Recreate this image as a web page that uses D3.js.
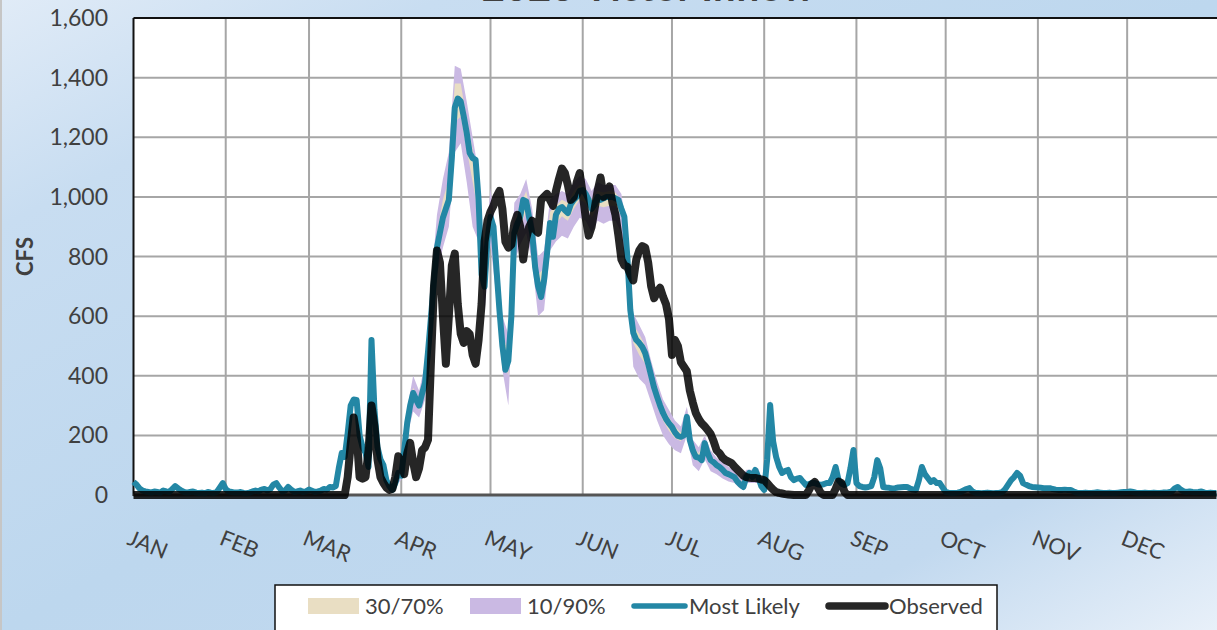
<!DOCTYPE html>
<html>
<head>
<meta charset="utf-8">
<script src="https://cdn.jsdelivr.net/npm/d3@7"></script>
<style>
body { margin: 0; }
svg text { font-family: Lato, "Open Sans", sans-serif; }
</style>
</head>
<body>
<svg width="1217" height="630"></svg>
<script>
// daily flows, Jan 1 .. Dec 31 2023
const year = 2023;
const monthLabels = ["JAN","FEB","MAR","APR","MAY","JUN","JUL","AUG","SEP","OCT","NOV","DEC"];
const yTicks = [0, 200, 400, 600, 800, 1000, 1200, 1400, 1600];

const mostLikely = [
  44,35,22,15,12,10,8,12,10,8, 15,12,10,20,30,22,15,10,8,10,
  12,8,7,8,6,10,8,7,10,25, 40,20,12,10,8,8,10,7,6,8,
  12,15,12,18,20,15,20,35,40,25, 12,15,27,18,10,12,15,10,12,18,
  14,10,12,15,20,18,27,25,30,90, 141,128,208,300,320,319,200,160,141,94,
  520,285,161,120,100,50,30,17,40,74, 65,150,242,300,342,320,300,340,376,480,
  597,720,830,880,930,960,990,1130,1300,1330, 1320,1270,1215,1147,1130,1124,990,740,698,860,
  933,900,760,621,500,420,450,597,879,910, 933,990,985,930,879,765,700,664,720,810,
  912,866,940,960,966,955,946,975,990,1000, 1020,1023,1010,990,960,975,1000,990,995,1000,
  1000,1000,995,990,960,933,799,620,544,520, 510,497,476,440,400,360,329,300,275,255,
  240,228,210,198,195,200,262,184,150,128, 125,117,174,140,117,110,100,94,85,74,
  70,65,60,45,35,27,60,74,60,84, 60,30,17,120,302,180,128,95,74,80,
  84,60,50,55,57,45,34,36,40,40, 36,34,36,40,40,60,94,50,38,34,
  40,90,151,40,30,27,25,27,30,60, 117,90,27,25,24,22,23,25,26,27,
  27,22,18,17,50,94,70,57,44,50, 40,40,25,10,8,7,7,8,10,15,
  20,23,12,7,7,6,7,8,7,6, 7,7,10,20,35,50,60,74,65,40,
  35,30,27,26,25,24,23,23,23,20, 18,17,17,18,17,17,12,8,7,7,
  8,7,7,8,9,8,7,7,8,7, 7,8,9,10,10,12,10,8,7,7,
  8,7,7,8,7,7,8,8,9,12, 22,27,18,12,10,12,10,9,10,12,
  8,7,8,7,7
];

const observed = [
  0,0,0,0,0,0,0,0,0,0, 0,0,0,0,0,0,0,0,0,0,
  0,0,0,0,0,0,0,0,0,0, 0,0,0,0,0,0,0,0,0,0,
  0,0,0,0,0,0,0,0,0,0, 0,0,0,0,0,0,0,0,0,0,
  0,0,0,0,0,0,0,0,0,0, 0,0,60,170,260,200,60,55,60,150,
  300,230,120,60,40,25,17,20,60,130, 110,70,140,175,110,60,90,150,160,185,
  450,700,820,780,600,440,600,770,810,640, 540,510,550,540,470,440,520,640,850,920,
  950,970,1000,1020,960,850,830,840,910,940, 900,790,860,900,920,890,880,990,1000,1010,
  990,970,1020,1060,1095,1080,1040,990,1000,1050, 1080,1010,930,870,900,960,1020,1065,1000,1010,
  1035,980,940,870,790,770,765,740,720,790, 820,835,830,780,700,660,680,695,665,640,
  590,470,520,500,445,430,415,350,310,275, 255,240,230,218,205,180,150,140,125,117,
  112,107,95,85,75,65,60,58,57,57, 55,52,50,40,28,18,10,7,5,3,
  2,1,0,0,0,0,0,15,35,44, 25,7,0,0,0,0,20,45,40,10,
  0,0,0,0,0,0,0,0,0,0, 0,0,0,0,0,0,0,0,0,0,
  0,0,0,0,0,0,0,0,0,0, 0,0,0,0,0,0,0,0,0,0,
  0,0,0,0,0,0,0,0,0,0, 0,0,0,0,0,0,0,0,0,0,
  0,0,0,0,0,0,0,0,0,0, 0,0,0,0,0,0,0,0,0,0,
  0,0,0,0,0,0,0,0,0,0, 0,0,0,0,0,0,0,0,0,0,
  0,0,0,0,0,0,0,0,0,0, 0,0,0,0,0,0,0,0,0,0,
  0,0,0,0,0
];

// forecast bands, only visible through the runoff season (day of year)
const bandDays = [88,90,92,94,96,98,100,102,104,106,108,110,112,114,116,118,120,122,124,126,
  128,130,132,134,136,138,140,142,144,146,148,150,152,154,156,158,160,162,164,166,
  168,170,172,174,176,178,180,182,184,186,188,190,192,194,196,198,200,202,204,206,
  208,210,212,214,216];
const p10lo = [30,50,200,280,260,320,520,740,830,900,1150,1180,1050,900,850,620,840,660,420,300,
  780,840,880,780,600,620,820,850,870,860,900,930,920,880,920,910,920,920,880,700,
  430,390,370,310,250,200,170,150,140,200,100,80,120,80,70,55,45,40,20,40,
  40,40,10,280,110];
const p30lo = [35,58,225,320,285,355,570,800,900,960,1250,1270,1160,1050,940,670,900,730,470,400,
  840,900,950,840,660,680,880,910,935,920,960,990,980,930,970,965,970,970,935,770,
  510,470,440,370,300,250,215,190,180,240,135,110,155,105,90,75,60,52,30,52,
  52,52,14,295,120];
const p30hi = [45,75,260,360,320,400,640,880,990,1060,1380,1380,1260,1160,1030,740,970,800,540,480,
  920,970,1020,920,740,760,950,970,990,980,1020,1040,1030,990,1020,1015,1020,1015,985,830,
  570,540,500,420,350,295,260,230,210,275,165,140,185,130,110,95,80,68,42,70,
  70,70,22,310,135];
const p10hi = [55,90,290,400,350,440,700,940,1060,1150,1440,1430,1320,1200,1080,800,1030,860,600,540,
  980,1010,1060,960,800,820,990,1010,1020,1010,1050,1070,1060,1020,1050,1040,1040,1040,1010,870,
  610,570,530,450,380,320,285,250,230,295,185,160,200,150,125,110,95,80,55,85,
  85,90,30,320,145];

const legendItems = [
  {label: "30/70%", kind: "box", color: "#e9dec3"},
  {label: "10/90%", kind: "box", color: "#cab9e3"},
  {label: "Most Likely", kind: "line", color: "#2387a5", width: 5.5},
  {label: "Observed", kind: "line", color: "#262626", width: 7.5}
];

svg = d3.select("svg");
W = +svg.attr("width");
H = +svg.attr("height");

// background gradient like the workbook chart area
defs = svg.append("defs");
grad = defs.append("linearGradient").attr("id", "bg")
  .attr("x1", "0%").attr("y1", "0%").attr("x2", "100%").attr("y2", "100%");
[["0%","#e0ebf7"],["18%","#c8ddf1"],["50%","#bdd7ee"],["82%","#c2d9ef"],["100%","#e8f0f9"]]
  .forEach(function(s) { grad.append("stop").attr("offset", s[0]).attr("stop-color", s[1]); });
svg.append("rect").attr("width", W).attr("height", H).attr("fill", "url(#bg)");
svg.append("rect").attr("width", 2).attr("height", H).attr("fill", "#c6c6c6");

left = 133.5; top_ = 18; bottom = 495;
start = new Date(year, 0, 1);
end = new Date(year + 1, 0, 1);
xScale = d3.scaleTime().domain([start, end]).range([left, left + 365 * 2.975]);
yScale = d3.scaleLinear().domain([0, 1600]).range([bottom, top_]);
dayDate = function(i) { return d3.timeDay.offset(start, i); };

// title, mostly off the top edge (as in the source image)
svg.append("text")
  .attr("x", 648).attr("y", 1)
  .attr("text-anchor", "middle")
  .attr("font-size", 40).attr("font-weight", "bold")
  .attr("fill", "#404040")
  .text(year + " Victor Inflow");

// plot area
svg.append("rect")
  .attr("x", left).attr("y", top_)
  .attr("width", W - left + 10).attr("height", bottom - top_)
  .attr("fill", "#fff");

months = d3.timeMonth.range(start, end);
g = svg.append("g");
g.selectAll(".vgrid").data(months.slice(1)).join("line")
  .attr("x1", function(d) { return xScale(d); }).attr("x2", function(d) { return xScale(d); })
  .attr("y1", top_).attr("y2", bottom)
  .attr("stroke", "#a6a6a6").attr("stroke-width", 2);
g.selectAll(".hgrid").data(yTicks.slice(1, -1)).join("line")
  .attr("x1", left).attr("x2", W + 5)
  .attr("y1", function(d) { return yScale(d); }).attr("y2", function(d) { return yScale(d); })
  .attr("stroke", "#a6a6a6").attr("stroke-width", 2);

// plot border (top + left) and the category axis
svg.append("line").attr("x1", left).attr("x2", W + 5).attr("y1", top_).attr("y2", top_)
  .attr("stroke", "#111").attr("stroke-width", 2);
svg.append("line").attr("x1", left).attr("x2", left).attr("y1", top_).attr("y2", bottom + 1)
  .attr("stroke", "#111").attr("stroke-width", 2);
svg.append("line").attr("x1", left).attr("x2", W + 5).attr("y1", bottom).attr("y2", bottom)
  .attr("stroke", "#555").attr("stroke-width", 3);

// y tick labels
svg.selectAll(".ylab").data(yTicks).join("text")
  .attr("x", 108).attr("y", function(d) { return yScale(d); })
  .attr("dy", "0.35em")
  .attr("text-anchor", "end")
  .attr("font-size", 23).attr("fill", "#404040")
  .text(d3.format(","));

svg.append("text")
  .attr("transform", "translate(33," + yScale(800) + ") rotate(-90)")
  .attr("text-anchor", "middle")
  .attr("font-size", 22).attr("font-weight", "bold").attr("fill", "#404040")
  .text("CFS");

// month labels, slanted
svg.selectAll(".mlab").data(months).join("text")
  .attr("transform", function(d) { return "translate(" + (xScale(d) - 1) + ",528) rotate(22)"; })
  .attr("dy", "0.78em")
  .attr("font-size", 22).attr("fill", "#404040")
  .text(function(d, i) { return monthLabels[i]; });

// forecast bands
band = function(lo, hi) {
  return d3.area()
    .x(function(d, i) { return xScale(dayDate(bandDays[i])); })
    .y0(function(d, i) { return yScale(lo[i]); })
    .y1(function(d, i) { return yScale(hi[i]); });
};
svg.append("path").datum(bandDays).attr("fill", "#cab9e3").attr("d", band(p10lo, p10hi));
svg.append("path").datum(bandDays).attr("fill", "#e9dec3").attr("d", band(p30lo, p30hi));

line = d3.line().x(function(d, i) { return xScale(dayDate(i)); });

svg.append("path").datum(mostLikely)
  .attr("fill", "none").attr("stroke", "#2387a5").attr("stroke-width", 6)
  .attr("stroke-linejoin", "round")
  .attr("d", line.y(function(d) { return yScale(d); }));

svg.append("path").datum(observed)
  .attr("fill", "none").attr("stroke", "#000").attr("stroke-opacity", 0.85)
  .attr("stroke-width", 8).attr("stroke-linejoin", "round")
  .attr("d", line.y(function(d) { return yScale(d); }));

// legend
lg = svg.append("g");
lg.append("rect").attr("x", 275).attr("y", 585).attr("width", 722).attr("height", 60)
  .attr("fill", "#fff").attr("stroke", "#111").attr("stroke-width", 1.5);
legendX = [308, 470, 631, 826];
legendItems.forEach(function(it, i) {
  x0 = legendX[i];
  if (it.kind == "box") {
    lg.append("rect").attr("x", x0).attr("y", 598).attr("width", 51).attr("height", 16)
      .attr("fill", it.color);
  } else {
    lg.append("line").attr("x1", x0 + 3).attr("x2", x0 + (i == 2 ? 54 : 59))
      .attr("y1", 606).attr("y2", 606)
      .attr("stroke", it.color).attr("stroke-width", it.width).attr("stroke-linecap", "round");
  }
  lg.append("text")
    .attr("x", x0 + (it.kind == "box" ? 57 : (i == 2 ? 58 : 63))).attr("y", 606)
    .attr("dy", "0.35em")
    .attr("font-size", 22).attr("fill", "#404040")
    .text(it.label);
});
</script>
</body>
</html>
